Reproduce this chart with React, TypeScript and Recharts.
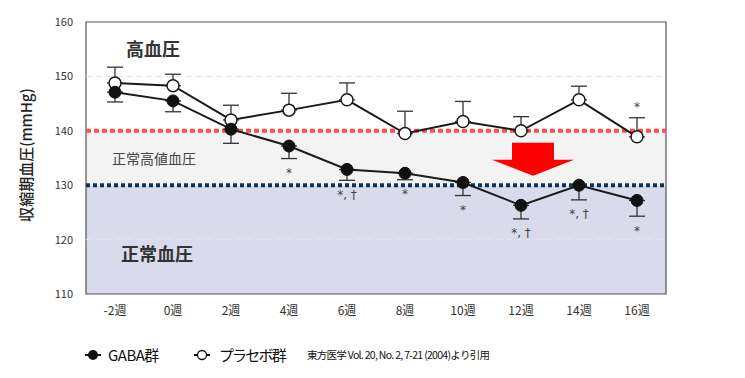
import React from 'react';
import {
  LineChart, Line, XAxis, YAxis, ErrorBar, ReferenceArea, ReferenceLine, ReferenceDot,
} from 'recharts';

const weeks = ['-2週', '0週', '2週', '4週', '6週', '8週', '10週', '12週', '14週', '16週'];
const gaba = [147.1, 145.5, 140.3, 137.2, 132.9, 132.2, 130.5, 126.3, 130.0, 127.2];
const gabaErr = [1.8, 2.0, 2.6, 2.3, 2.0, 1.2, 2.4, 2.5, 2.7, 2.9];
const placebo = [148.8, 148.3, 142.0, 143.8, 145.7, 139.5, 141.7, 140.0, 145.7, 138.9];
const placeboErr = [2.9, 2.1, 2.7, 3.1, 3.1, 4.1, 3.7, 2.6, 2.5, 3.5];
const gabaMarks = ['', '', '', '*', '*, †', '*', '*', '*, †', '*, †', '*'];
const placeboMarks = ['', '', '', '', '', '', '', '', '', '*'];
const yTicks = [110, 120, 130, 140, 150, 160];
const zoneHigh = 140;
const zoneNormal = 130;

const data = weeks.map((w, i) => ({
  idx: i,
  gaba: gaba[i],
  placebo: placebo[i],
  gabaErr: [gabaErr[i], 0],
  placeboErr: [0, placeboErr[i]],
}));
const xTicks = weeks.map((_, i) => i);

const FONT = '"Noto Sans CJK JP", "Noto Sans", sans-serif';

const zoneLabel = (text: string, dx: number, dy: number, size: number, bold: boolean, color: string) =>
  (props: any) => {
    const vb = props.viewBox || {};
    return (
      <text x={vb.x + dx} y={vb.y + vb.height / 2 + dy} fontSize={size} fontWeight={bold ? 700 : 400}
        fill={color} fontFamily={FONT} dominantBaseline="central">{text}</text>
    );
  };

const markShape = (text: string) => (p: any) => (
  <text x={p.cx} y={p.cy + 2} textAnchor="middle" dominantBaseline="central" fontSize={12}
    fill="#444" fontFamily='"DejaVu Sans", sans-serif'>{text}</text>
);

const arrowShape = (p: any) => {
  const cx = p.cx + 12;
  const cy = p.cy;
  const d = `M${cx - 21},${cy} L${cx + 21},${cy} L${cx + 21},${cy + 17} L${cx + 41},${cy + 17} L${cx},${cy + 33} L${cx - 41},${cy + 17} L${cx - 21},${cy + 17} Z`;
  return <path d={d} fill="#ff0000" />;
};

const LegendBlock = () => (
  <div style={{ position: 'absolute', left: 85, top: 344, display: 'flex', alignItems: 'center', fontFamily: FONT, color: '#111' }}>
    <svg width={16} height={14} style={{ marginRight: 7 }}>
      <line x1={0} y1={7} x2={16} y2={7} stroke="#111" strokeWidth={2} />
      <circle cx={8} cy={7} r={5} fill="#111" />
    </svg>
    <span style={{ fontSize: 15, letterSpacing: -0.5 }}>GABA群</span>
    <svg width={16} height={14} style={{ marginLeft: 35, marginRight: 9 }}>
      <line x1={0} y1={7} x2={16} y2={7} stroke="#111" strokeWidth={2} />
      <circle cx={8} cy={7} r={4.5} fill="#fff" stroke="#111" strokeWidth={1.3} />
    </svg>
    <span style={{ fontSize: 15, letterSpacing: -1.8 }}>プラセボ群</span>
    <span style={{ fontSize: 10.5, marginLeft: 22, letterSpacing: -0.7 }}>東方医学 Vol. 20, No. 2, 7-21 (2004)より引用</span>
  </div>
);

export default function App() {
  return (
    <div style={{ position: 'absolute', left: 0, top: 0, width: 745, height: 378, background: '#fff' }}>
      <LineChart width={745} height={378} data={data}
        margin={{ top: 22, right: 79, bottom: 54, left: 0 }}>
        <XAxis dataKey="idx" type="number" domain={[-0.5, 9.5]} allowDataOverflow ticks={xTicks}
          tickFormatter={(v: number) => weeks[v] ?? ''} axisLine={false} tickLine={false} tickMargin={6}
          tick={{ fontSize: 12, fill: '#333', fontFamily: FONT }} interval={0} />
        <YAxis domain={[110, 160]} allowDataOverflow ticks={yTicks} width={86} axisLine={false} tickLine={false}
          tickSize={6} tickMargin={7} tick={{ fontSize: 11, fill: '#333', fontFamily: FONT }}
          label={(props: any) => {
            const vb = props.viewBox || {};
            const x = 25;
            const y = vb.y + vb.height / 2 - 3;
            return (
              <text x={x} y={y} transform={`rotate(-90 ${x} ${y})`} textAnchor="middle"
                dominantBaseline="central" fontSize={15} fontWeight={500} fill="#222" fontFamily={FONT}>収縮期血圧(mmHg)</text>
            );
          }} />
        <ReferenceArea y1={110} y2={zoneNormal} fill="#d9daeb" fillOpacity={1} stroke="none"
          label={zoneLabel('正常血圧', 35, 13, 18, true, '#333')} />
        <ReferenceArea y1={zoneNormal} y2={zoneHigh} fill="#f3f3f3" fillOpacity={1} stroke="none"
          label={zoneLabel('正常高値血圧', 26, 0, 14, false, '#444')} />
        <ReferenceArea y1={zoneHigh} y2={160} fill="#ffffff" fillOpacity={1} stroke="none"
          label={zoneLabel('高血圧', 40, -28, 18, true, '#333')} />
        <ReferenceLine y={150} stroke="#e4e4e4" strokeDasharray="6 4" />
        <ReferenceLine y={120} stroke="#e4e4e8" strokeDasharray="6 4" />
        <ReferenceArea y1={110} y2={160} fill="none" stroke="#555" strokeWidth={1.2} />
        <ReferenceLine y={zoneHigh} stroke="#ff4d4d" strokeWidth={4} strokeDasharray="5 3" />
        <ReferenceLine y={zoneNormal} stroke="#0d3656" strokeWidth={4} strokeDasharray="4 3" />
        <ReferenceDot x={7} y={137.8} r={0} shape={arrowShape} ifOverflow="visible" />
        <Line dataKey="placebo" stroke="#1a1a1a" strokeWidth={2} isAnimationActive={false}
          dot={{ r: 6, fill: '#fff', stroke: '#1a1a1a', strokeWidth: 1.5 }} activeDot={false}>
          <ErrorBar dataKey="placeboErr" width={8} stroke="#333" strokeWidth={1.3} direction="y" />
        </Line>
        <Line dataKey="gaba" stroke="#1a1a1a" strokeWidth={2} isAnimationActive={false}
          dot={{ r: 6, fill: '#111', stroke: '#111', strokeWidth: 1 }} activeDot={false}>
          <ErrorBar dataKey="gabaErr" width={8} stroke="#333" strokeWidth={1.3} direction="y" />
        </Line>
        {gabaMarks.map((m, i) => m ? (
          <ReferenceDot key={'g' + i} x={i} y={gaba[i] - gabaErr[i] - 2.3} r={0}
            shape={markShape(m)} ifOverflow="visible" />
        ) : null)}
        {placeboMarks.map((m, i) => m ? (
          <ReferenceDot key={'p' + i} x={i} y={placebo[i] + placeboErr[i] + 2.3} r={0}
            shape={markShape(m)} ifOverflow="visible" />
        ) : null)}
      </LineChart>
      <LegendBlock />
    </div>
  );
}
